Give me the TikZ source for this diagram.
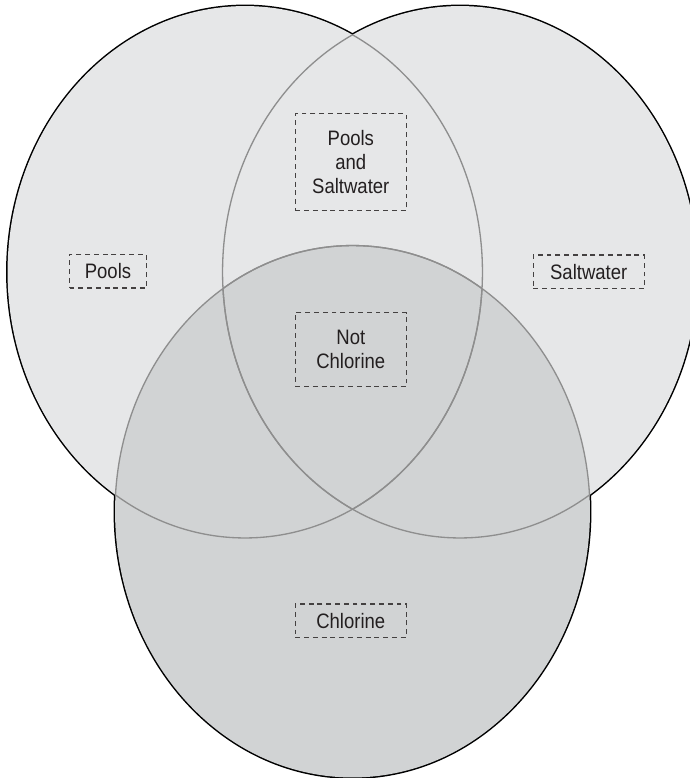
\documentclass[tikz,border=0pt]{standalone}
\usepackage{fontspec}
\setmainfont{Liberation Sans}[FakeStretch=0.885]
\usetikzlibrary{positioning}
\definecolor{vennlight}{HTML}{E6E7E8}
\definecolor{venndark}{HTML}{D1D3D4}
\definecolor{vennseam}{HTML}{8E8E8E}
\definecolor{venntext}{HTML}{231F20}

\begin{document}
\begin{tikzpicture}[
	x=0.02cm, y=-0.02cm,
	setshape/.style={x radius=4.75cm, y radius=5.32cm},
	rim/.style={
		draw=black,
		line width=1.7pt
	},
	seam/.style={
		draw=vennseam,
		line width=0.75pt
	},
	tag/.style={
		draw=venntext!85,
		dash pattern=on 2.8pt off 2.2pt,
		line width=0.7pt,
		text=venntext,
		align=center,
		inner sep=0pt,
		font=\fontsize{11.9}{13.65}\selectfont,
		minimum width=2.22cm
	},
	node distance=2cm
	]
	\useasboundingbox (0,0) rectangle (690,778);
	\clip (0,0) rectangle (690,778);
	\coordinate (pools) at (245,272);
	\coordinate (salt) at (460,272);
	\coordinate (chlor) at (352.5,511.5);
	
	% outer rim, then the fills cover its inner half
	\path[rim] (pools) ellipse [setshape] (salt) ellipse [setshape] (chlor) ellipse [setshape];
	\fill[vennlight] (pools) ellipse [setshape] (salt) ellipse [setshape];
	\fill[venndark] (chlor) ellipse [setshape];
	
	% inner arcs in grey
	\begin{scope}
	\clip (pools) ellipse [setshape];
	\path[seam] (salt) ellipse [setshape] (chlor) ellipse [setshape];
	\end{scope}
	\begin{scope}
	\clip (salt) ellipse [setshape];
	\path[seam] (pools) ellipse [setshape] (chlor) ellipse [setshape];
	\end{scope}
	\begin{scope}
	\clip (chlor) ellipse [setshape];
	\path[seam] (pools) ellipse [setshape] (salt) ellipse [setshape];
	\end{scope}
	
	\node[tag, minimum height=1.48cm] (notchl) at (350.8,349.7) 
	{Not\\Chlorine};
	\node[tag, minimum height=1.934cm, above=2.02cm of notchl] (both) 
	{Pools\\and\\Saltwater};
	\node[tag, minimum height=0.67cm, below=4.32cm of notchl] (chl) 
	{Chlorine};
	\node[tag, minimum height=0.67cm, minimum width=1.54cm] (pl) at (108,271.3) 
	{Pools};
	\node[tag, minimum height=0.67cm] (sw) at (588.7,271.7) 
	{Saltwater};
\end{tikzpicture}
\end{document}
